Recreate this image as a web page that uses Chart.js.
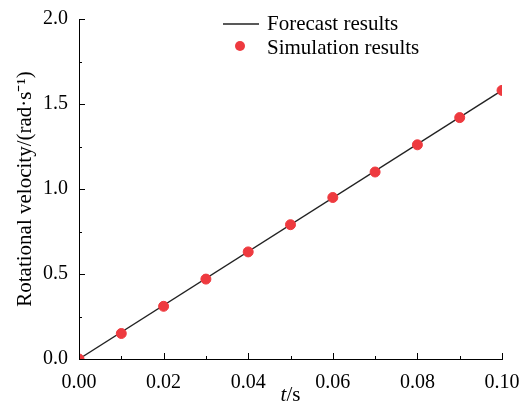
<!DOCTYPE html>
<html>
<head>
<meta charset="utf-8">
<script src="https://cdn.jsdelivr.net/npm/chart.js@4"></script>
<style>
  html, body { margin: 0; padding: 0; background: #fff; }
  #wrap { width: 526px; height: 405px; }
</style>
</head>
<body>
<div id="wrap"><canvas id="chart" width="526" height="405"></canvas></div>
<script>
// data
const simTimes = [0, 0.01, 0.02, 0.03, 0.04, 0.05, 0.06, 0.07, 0.08, 0.09, 0.10]
const simValues = [0, 0.15, 0.31, 0.47, 0.63, 0.79, 0.95, 1.10, 1.26, 1.42, 1.58]
const forecastTimes = [0, 0.10]
const forecastValues = [0, 1.58]
const xTicks = [0, 0.02, 0.04, 0.06, 0.08, 0.10]
const yTicks = [0, 0.5, 1.0, 1.5, 2.0]
const xMinor = [0.01, 0.03, 0.05, 0.07, 0.09]
const yMinor = [0.25, 0.75, 1.25, 1.75]

const serif = "'Liberation Serif', 'Times New Roman', serif"
const red = '#EE3A3F'
const lineColor = '#222'

Chart.defaults.font.family = serif
Chart.defaults.color = '#000'

// ticks drawn inward, legend and x title with italic t
const decor = {
  id: 'decor',
  afterDraw(chart) {
    const c = chart.ctx
    const xs = chart.scales.x, ys = chart.scales.y
    const area = chart.chartArea
    c.save()
    c.strokeStyle = '#000'
    c.lineWidth = 1
    c.beginPath()
    xTicks.forEach(v => { const p = Math.round(xs.getPixelForValue(v)) + 0.5; c.moveTo(p, area.bottom); c.lineTo(p, area.bottom - 6) })
    xMinor.forEach(v => { const p = Math.round(xs.getPixelForValue(v)) + 0.5; c.moveTo(p, area.bottom); c.lineTo(p, area.bottom - 3) })
    yTicks.forEach(v => { const p = Math.round(ys.getPixelForValue(v)) + 0.5; c.moveTo(area.left, p); c.lineTo(area.left + 6, p) })
    yMinor.forEach(v => { const p = Math.round(ys.getPixelForValue(v)) + 0.5; c.moveTo(area.left, p); c.lineTo(area.left + 3, p) })
    c.stroke()

    // legend
    const ds = chart.data.datasets
    c.font = '21px ' + serif
    c.fillStyle = '#000'
    c.textBaseline = 'alphabetic'
    c.strokeStyle = ds[1].borderColor
    c.lineWidth = 1.3
    c.beginPath(); c.moveTo(223, 24); c.lineTo(259, 24); c.stroke()
    c.fillText(ds[1].label, 267, 30)
    c.fillStyle = ds[0].backgroundColor
    c.beginPath(); c.arc(240, 46, 5, 0, Math.PI * 2); c.fill()
    c.fillStyle = '#000'
    c.fillText(ds[0].label, 267, 54)

    // x title
    const cx = (area.left + area.right) / 2
    c.font = 'italic 21px ' + serif
    const w1 = c.measureText('t').width
    c.font = '21px ' + serif
    const w2 = c.measureText('/s').width
    const x0 = cx - (w1 + w2) / 2
    c.font = 'italic 21px ' + serif
    c.fillText('t', x0, 401)
    c.font = '21px ' + serif
    c.fillText('/s', x0 + w1, 401)
    c.restore()
  }
}

new Chart(document.getElementById('chart'), {
  type: 'scatter',
  data: {
    datasets: [
      {
        label: 'Simulation results',
        data: simTimes.map((t, i) => ({ x: t, y: simValues[i] })),
        backgroundColor: red,
        borderColor: red,
        pointRadius: 5,
        pointHoverRadius: 5,
        showLine: false,
        order: 0
      },
      {
        label: 'Forecast results',
        data: forecastTimes.map((t, i) => ({ x: t, y: forecastValues[i] })),
        borderColor: lineColor,
        backgroundColor: lineColor,
        borderWidth: 1.3,
        pointRadius: 0,
        showLine: true,
        order: 1
      }
    ]
  },
  options: {
    responsive: false,
    animation: false,
    events: [],
    layout: { padding: { left: 0, top: 19, right: 24, bottom: 0 } },
    plugins: { legend: { display: false }, tooltip: { enabled: false } },
    scales: {
      x: {
        type: 'linear',
        min: 0, max: 0.10,
        afterBuildTicks: s => { s.ticks = xTicks.map(v => ({ value: v })) },
        afterFit: s => { s.height = 46 },
        grid: { display: false },
        border: { display: true, color: '#000', width: 1 },
        ticks: { color: '#000', padding: 4, maxRotation: 0, font: { family: serif, size: 20 }, callback: v => v.toFixed(2) }
      },
      y: {
        min: 0, max: 2.0,
        afterBuildTicks: s => { s.ticks = yTicks.map(v => ({ value: v })) },
        afterFit: s => { s.width = 79 },
        grid: { display: false },
        border: { display: true, color: '#000', width: 1 },
        ticks: { color: '#000', padding: 3, font: { family: serif, size: 20 }, callback: v => v.toFixed(1) },
        title: {
          display: true,
          text: 'Rotational velocity/(rad·s⁻¹)',
          color: '#000',
          font: { family: serif, size: 21 },
          padding: { top: 13, bottom: 0 }
        }
      }
    }
  },
  plugins: [decor]
})
</script>
</body>
</html>
